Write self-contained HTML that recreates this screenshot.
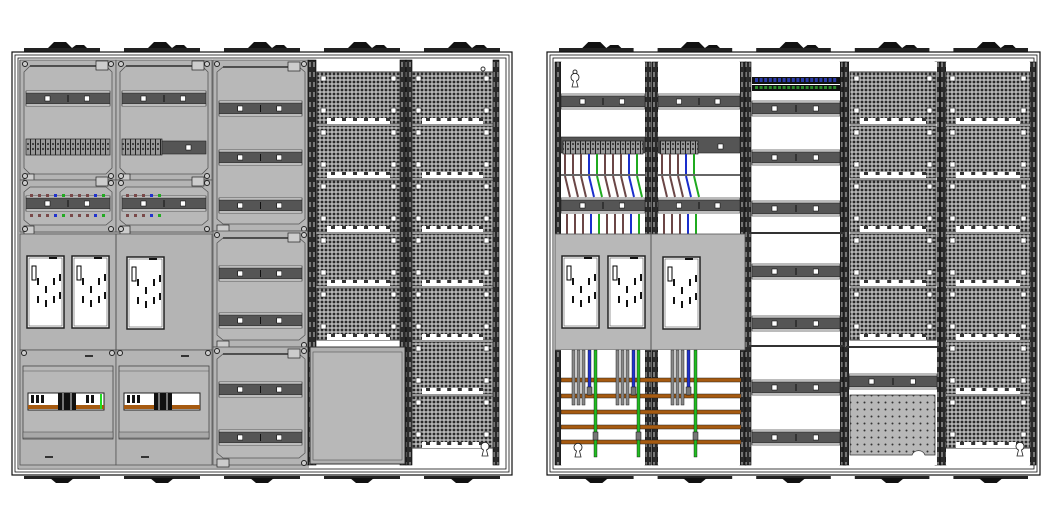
<!DOCTYPE html>
<html><head><meta charset="utf-8"><style>
html,body{margin:0;padding:0;background:#fff;width:1061px;height:525px;overflow:hidden}
svg{display:block}
</style></head><body>
<svg id="s" width="1061" height="525" viewBox="0 0 1061 525" xmlns="http://www.w3.org/2000/svg">
<defs>
<pattern id="perf" width="4" height="4" patternUnits="userSpaceOnUse">
<rect width="4" height="4" fill="#b4b4b4"/><circle cx="2" cy="2" r="1.4" fill="#2a2a2a"/>
</pattern>
<pattern id="perf2" width="7" height="7" patternUnits="userSpaceOnUse">
<rect width="7" height="7" fill="#b8b8b8"/><circle cx="3.5" cy="3.5" r="1" fill="#333"/>
</pattern>
<pattern id="rail" width="4" height="10" patternUnits="userSpaceOnUse">
<rect width="4" height="10" fill="#2a2a2a"/><rect x="1" y="2" width="2" height="5" fill="#777"/>
</pattern>
<pattern id="term" width="5" height="14" patternUnits="userSpaceOnUse">
<rect width="5" height="14" fill="#9a9a9a"/><rect x="0" width="1" height="14" fill="#222"/><rect x="2" y="3" width="2" height="2" fill="#444"/><rect x="2" y="8" width="2" height="2" fill="#444"/>
</pattern>
</defs>
<g id="g"></g>
</svg>
<script>
const g=document.getElementById('g');let h='';
function R(x,y,w,ht,f,s,sw){h+=`<rect x="${x}" y="${y}" width="${w}" height="${ht}" fill="${f||'none'}" ${s?`stroke="${s}" stroke-width="${sw||1}"`:''}/>`}
function L(x1,y1,x2,y2,s,sw){h+=`<line x1="${x1}" y1="${y1}" x2="${x2}" y2="${y2}" stroke="${s}" stroke-width="${sw||1}"/>`}
function C(x,y,r,f,s){h+=`<circle cx="${x}" cy="${y}" r="${r}" fill="${f}" ${s?`stroke="${s}"`:''}/>`}
function P(d,f,s,sw){h+=`<path d="${d}" fill="${f||'none'}" ${s?`stroke="${s}" stroke-width="${sw||1}"`:''}/>`}
function key(x,y){P(`M${x-1.5} ${y+3} A4 4 0 1 1 ${x+1.5} ${y+3} L${x+3} ${y+9} L${x-3} ${y+9}Z`,'#fff','#222',0.8)}
function din(x,y,w){R(x,y,w,2,'#fff','#222',0.6);R(x,y+2,w,11,'#555','#222',0.6);R(x,y+13,w,2,'#fff','#222',0.6);
 R(x+w*0.25-2,y+5,5,5,'#fff','#000',0.5);R(x+w*0.72-2,y+5,5,5,'#fff','#000',0.5);L(x+w/2,y+4,x+w/2,y+11,'#111',1)}
function perf(x,y,w,ht){R(x,y,w,ht,'url(#perf)','#333',1);R(x+4,y+4,5,5,'#fff','#000',0.5);R(x+w-9,y+4,5,5,'#fff','#000',0.5);
 R(x+4,y+ht-16,5,5,'#fff','#000',0.5);R(x+w-9,y+ht-16,5,5,'#fff','#000',0.5);
 R(x+10,y+ht-6,w-20,6,'#fff');for(let i=0;i<6;i++)R(x+14+i*(w-28)/5,y+ht-6,4,3,'#333')}
function feet(x0,x1){const n=5,wd=(x1-x0)/n;for(let i=0;i<n;i++){const a=x0+i*wd;
 R(a+12,48,wd-24,4,'#222');P(`M${a+wd/2-14} 48 L${a+wd/2-8} 42 L${a+wd/2+4} 42 L${a+wd/2+10} 48Z`,'#111');P(`M${a+wd/2+10} 48 L${a+wd/2+14} 45 L${a+wd/2+22} 45 L${a+wd/2+25} 48Z`,'#111');
 R(a+12,476,wd-24,3,'#222');P(`M${a+wd/2-12} 478 L${a+wd/2-6} 483 L${a+wd/2+6} 483 L${a+wd/2+12} 478Z`,'#111');}}
function frame(x0,x1){R(x0,52,x1-x0,423,'#fff','#111',1.2);R(x0+3,55,x1-x0-6,417,'none','#111',0.8);R(x0+6,58,x1-x0-12,411,'none','#111',0.8)}
function vrail(x,y0,y1,w){R(x,y0,w||8,y1-y0,'url(#rail)','#000',0.6)}
function meter(x,y){R(x,y,37,72,'#fff','#222',1.5);R(x+2,y+2,33,68,'none','#555',0.6);R(x+5,y+10,4,14,'#fff','#000',1);
 [[8,22],[16,30],[24,22],[30,18],[8,40],[16,44],[24,40],[30,36]].forEach(p=>R(x+p[0]+2,y+p[1],2,7,'#111'));R(x+22,y+1,8,2,'#111')}

// ===== Cabinet 1 =====
feet(12,512);frame(12,512);
R(19,60,290,408,'#b4b4b4');
[[20,116],[116,212]].forEach(([a,b],k)=>{
 R(a,60,b-a,120,'#b4b4b4','#555',0.8);
 P(`M${a+4} ${72} L${a+10} 66 L${b-10} 66 L${b-4} 72 L${b-4} 168 L${b-10} 174 L${a+10} 174 L${a+4} 168Z`,'#b8b8b8','#555',0.8);
 L(a+10,66,b-20,66,'#111',1.2);R(b-20,61,12,9,'#ccc','#222',0.7);C(a+5,64,2.5,'#ccc','#222');C(b-5,64,2.5,'#ccc','#222');
 din(a+6,91,b-a-12);
 if(k==0){R(a+6,139,b-a-12,16,'url(#term)','#222',0.7)}else{R(a+6,139,40,16,'url(#term)','#222',0.7);R(a+46,141,b-a-52,13,'#555','#222',0.6);R(a+70,145,5,5,'#fff','#000',0.5)}
 R(a+4,174,10,8,'#ccc','#222',0.7);C(a+5,176,2.5,'#ccc','#222');C(b-5,176,2.5,'#ccc','#222');
 R(a,180,b-a,52,'#b4b4b4','#555',0.8);
 P(`M${a+4} 192 L${a+10} 187 L${b-10} 187 L${b-4} 192 L${b-4} 220 L${b-10} 225 L${a+10} 225 L${a+4} 220Z`,'#b8b8b8','#555',0.8);
 R(b-20,177,12,9,'#ccc','#222',0.7);C(a+5,183,2.5,'#ccc','#222');C(b-5,183,2.5,'#ccc','#222');
 din(a+6,196,b-a-12);
 for(let i=0;i<10;i++){if(k==1&&i>4)break;const cx=a+10+i*8,col=(i%5==3)?'#2233cc':(i%5==4?'#22aa22':'#7a4a4a');R(cx,194,3,3,col);R(cx,214,3,3,col)}
 R(a+4,226,10,8,'#ccc','#222',0.7);C(a+5,229,2.5,'#ccc','#222');C(b-5,229,2.5,'#ccc','#222');
});
R(20,234,192,116,'#b4b4b4','#555',0.8);L(116,234,116,465,'#555',1);
meter(27,256);meter(72,256);meter(127,257);
[[20,116],[116,212]].forEach(([a,b],k)=>{
 R(a,350,b-a,115,'#b4b4b4','#555',0.8);C(a+4,353,2.5,'#ccc','#222');C(b-4,353,2.5,'#ccc','#222');R(a+65,355,8,2,'#333');
 R(a+3,366,b-a-6,73,'#b8b8b8','#444',0.8);R(a+3,432,b-a-6,6,'#a8a8a8','#444',0.5);L(a+3,371,b-3,371,'#555',0.6);
 R(a+8,393,b-a-20,17,'#fff','#222',1);R(a+8,405,b-a-20,4,'#a65a10');
 R(a+11,395,3,8,'#111');R(a+16,395,3,8,'#111');R(a+21,395,3,8,'#111');
 R(a+38,393,18,17,'#111');R(a+42,393,2,17,'#777');R(a+50,393,2,17,'#777');
 if(k==0){R(a+66,395,3,8,'#111');R(a+71,395,3,8,'#111');R(a+80,394,2,15,'#22dd22')}
 R(a+25,456,8,2,'#333');
});
[[62,229,[101,150,198]],[233,345,[266,313]],[349,463,[382,430]]].forEach(([y0,y1,rs])=>{
 R(213,y0-2,95,y1-y0+4,'#b4b4b4','#555',0.8);
 P(`M217 ${y0+10} L223 ${y0+5} L299 ${y0+5} L305 ${y0+10} L305 ${y1-10} L299 ${y1-5} L223 ${y1-5} L217 ${y1-10}Z`,'#b8b8b8','#555',0.8);
 L(223,y0+5,288,y0+5,'#111',1.2);R(288,y0,12,9,'#ccc','#222',0.7);C(217,y0+2,2.5,'#ccc','#222');C(304,y0+2,2.5,'#ccc','#222');
 R(217,y1-4,12,8,'#ccc','#222',0.7);C(304,y1,2.5,'#ccc','#222');
 rs.forEach(r=>din(219,r,83));
});
R(310,60,190,408,'#fff');
vrail(308,60,465,8);vrail(400,60,465,6);vrail(406,60,465,6);vrail(493,60,465,6);
for(let i=0;i<5;i++)perf(317,72+i*54,83,52);
R(310,347,95,117,'#b0b0b0','#333',1);R(313,352,89,108,'#b8b8b8','#555',0.6);
for(let i=0;i<7;i++)perf(412,72+i*54,81,52);
C(483,69,2,'#fff','#333');key(485,447);

// ===== Cabinet 2 =====
feet(547,1040);frame(547,1040);
[555,645,652,740,745,840,843,935,940,1030].forEach(x=>vrail(x,62,465,6));
R(561,62,84,403,'#fff');R(658,62,82,403,'#fff');
C(575,72,2,'#fff','#333');key(575,78);
[[561,645],[658,740]].forEach(([a,b],k)=>{
 din(a,94,b-a);
 R(a,137,b-a,16,'#555','#222',0.6);R(a+2,141,k==0?(b-a-4):38,13,'url(#term)','#222',0.7);if(k==1)R(a+60,144,5,5,'#fff','#000',0.5);
 din(a,198,b-a);L(a,175,b,175,'#666',2);
 const n=k==0?10:5;
 for(let i=0;i<n;i++){const cx=a+4+i*8,col=(i%5==3)?'#1a2ecc':(i%5==4?'#1faa1f':'#6b4646');
  L(cx,154,cx,174,col,2);L(cx,176,cx+5,197,col,2);L(cx+2,214,cx+2,234,col,2);}
});
R(555,234,190,116,'#b8b8b8','#555',0.8);L(651,234,651,350,'#555',1);
meter(562,256);meter(608,256);meter(663,257);
R(561,350,84,115,'#fff');R(658,350,82,115,'#fff');
[378,394,410,425,440].forEach(y=>{R(561,y,180,4,'#a65a10','#222',0.5)});
[[573,578,583,589,595],[617,622,627,633,638],[672,677,682,688,695]].forEach(xs=>{
 xs.forEach((x,i)=>{if(i<3)R(x-1,350,3,55,'#888','#222',0.5);else if(i==3){R(x-1,350,3,45,'#2233cc','#111',0.4);R(x-2,387,5,8,'#777','#111',0.5)}else{R(x-1,350,3,107,'#22bb22','#111',0.4);R(x-2,432,5,8,'#777','#111',0.5)}});});
key(578,448);
R(752,62,88,403,'#fff');
R(752,77,88,7,'#111');for(let i=0;i<18;i++)R(755+i*4.6,78,3,4,'#2a3aaa');
R(752,85,88,6,'#111');for(let i=0;i<18;i++)R(755+i*4.6,86,3,3,'#2a8a2a');
[101,150,201,264,316,380,430].forEach(y=>din(752,y,88));
[233,346].forEach(y=>L(748,y,845,y,'#333',2));
R(849,62,88,403,'#fff');
for(let i=0;i<5;i++)perf(850,72+i*54,86,52);
L(846,347,940,347,'#333',2);
din(849,374,88);
P('M850 395 L935 395 L935 455 L925 455 A7 7 0 0 0 912 455 L912 455 L850 455Z','url(#perf2)','#333',0.8);
R(946,62,84,403,'#fff');
for(let i=0;i<7;i++)perf(946,72+i*54,84,52);
key(1020,447);
g.innerHTML=h;
</script>
</body></html>
